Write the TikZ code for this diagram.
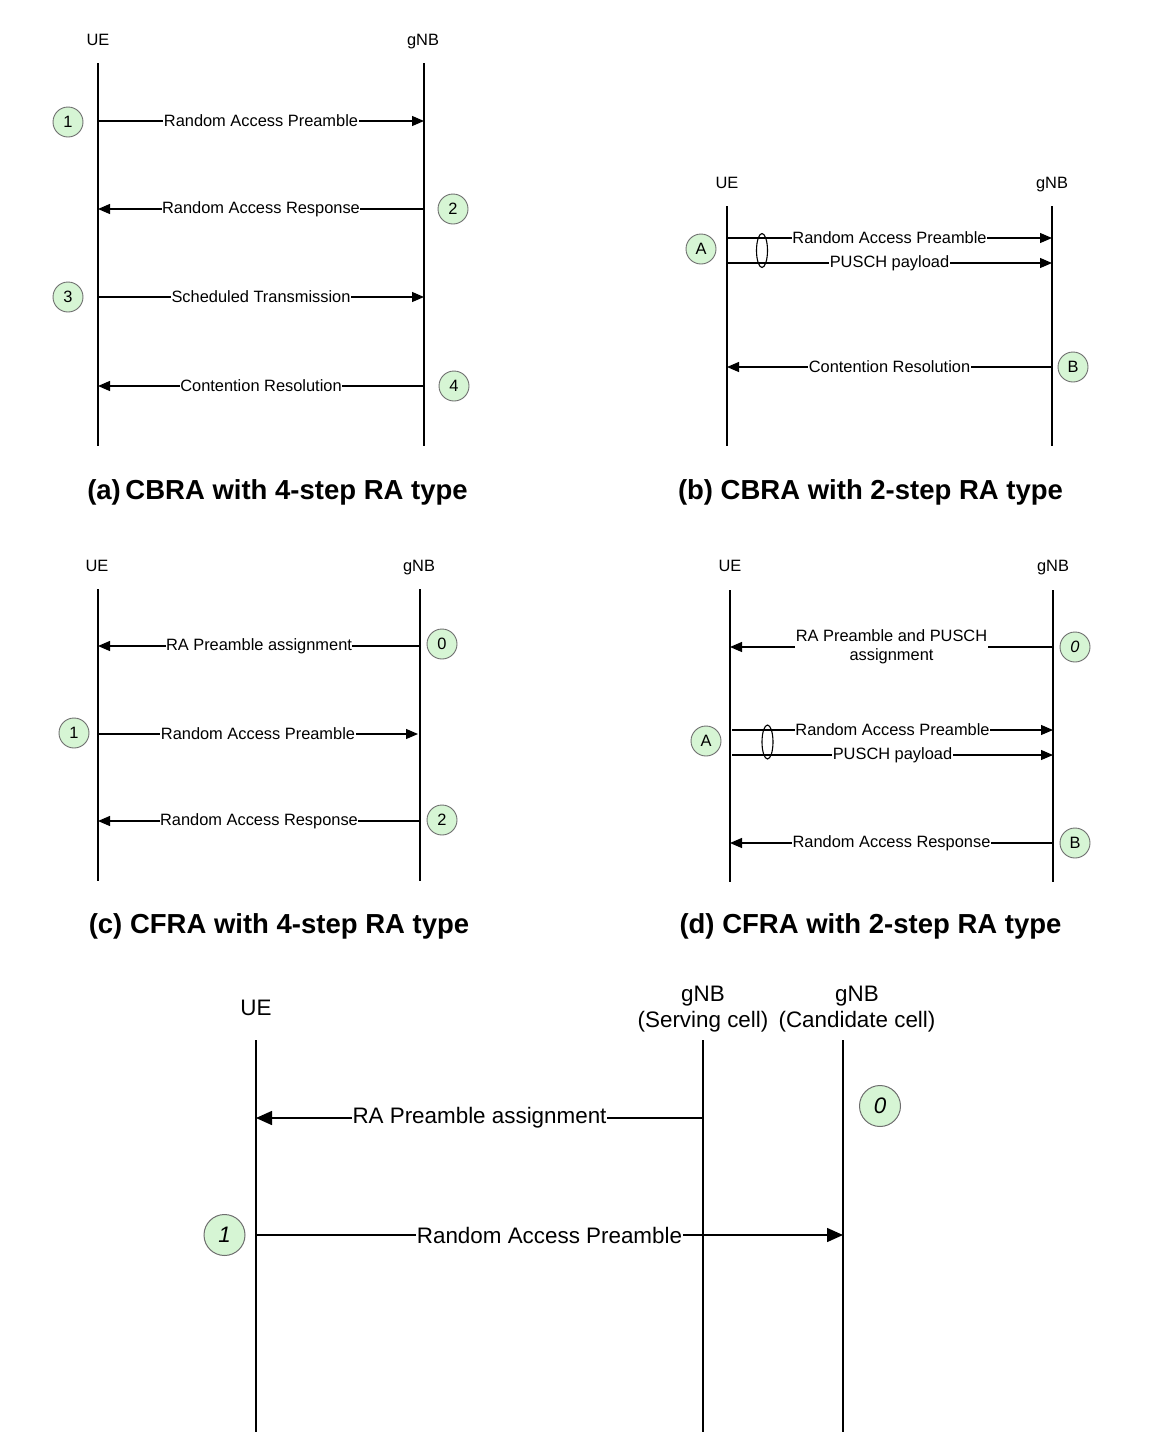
\documentclass[tikz,border=0pt]{standalone}
\usepackage{fontspec}
\setmainfont{Liberation Sans}
\usetikzlibrary{arrows.meta,shapes.geometric}
\definecolor{stepfill}{RGB}{214,245,212}
\definecolor{stepline}{RGB}{110,110,110}
\newcommand\fsm{\fontsize{16.4}{19.5}\selectfont}
\newcommand\fcap{\fontsize{27.5}{32}\selectfont\bfseries}
\newcommand\fbig{\fontsize{22.4}{26}\selectfont}
\begin{document}
\begin{tikzpicture}[x=1pt,y=-1pt,
  life/.style={line width=1.3pt},
  lifebig/.style={line width=1.5pt},
  msg/.style={line width=1.2pt,-{Triangle[length=12pt,width=10pt]}},
  msgbig/.style={line width=1.5pt,-{Triangle[length=16pt,width=14pt]}},
  lbl/.style={fill=white,inner xsep=0.5pt,inner ysep=1pt,font=\fsm},
  lblbig/.style={fill=white,inner xsep=0.5pt,inner ysep=1pt,font=\fbig},
  ent/.style={font=\fsm,inner sep=0pt,text height=12pt,text depth=0pt},
  entbig/.style={font=\fbig,inner sep=0pt,align=center},
  stepc/.style={circle,draw=stepline,line width=0.9pt,fill=stepfill,minimum size=30pt,inner sep=0pt,font=\fsm},
  stepcbig/.style={circle,draw=stepline,line width=1pt,fill=stepfill,minimum size=41pt,inner sep=0pt,font=\fbig\itshape},
  grp/.style={ellipse,draw,line width=1.1pt,minimum width=11pt,minimum height=34pt,inner sep=0pt},
  capt/.style={font=\fcap,inner sep=0pt}
]
\useasboundingbox (0,0) rectangle (1150,1449);

% ---------------- (a) ----------------
\node[ent] (aUE) at (98,39) {UE};
\node[ent] (aGNB) at (423,39) {gNB};
\coordinate (aUEt) at (98,63);  \coordinate (aUEb) at (98,446);
\coordinate (aGt) at (424,63);  \coordinate (aGb) at (424,446);
\draw[life] (aUEt) -- (aUEb);
\draw[life] (aGt) -- (aGb);
\coordinate (a1u) at (98,121);  \coordinate (a1g) at (424,121);
\coordinate (a2u) at (98,209);  \coordinate (a2g) at (424,209);
\coordinate (a3u) at (98,297);  \coordinate (a3g) at (424,297);
\coordinate (a4u) at (98,386);  \coordinate (a4g) at (424,386);
\draw[msg] (a1u) -- node[lbl]{Random Access Preamble} (a1g);
\draw[msg] (a2g) -- node[lbl]{Random Access Response} (a2u);
\draw[msg] (a3u) -- node[lbl]{Scheduled Transmission} (a3g);
\draw[msg] (a4g) -- node[lbl]{Contention Resolution} (a4u);
\node[stepc] (as1) at (68,122) {1};
\node[stepc] (as2) at (453,209) {2};
\node[stepc] (as3) at (68,297) {3};
\node[stepc] (as4) at (454,386) {4};
\node[capt] (capA) at (277.5,492) {(a)\,CBRA with 4-step RA type};

% ---------------- (b) ----------------
\node[ent] (bUE) at (727,182) {UE};
\node[ent] (bGNB) at (1052,182) {gNB};
\coordinate (bUEt) at (727,206);  \coordinate (bUEb) at (727,446);
\coordinate (bGt) at (1052,206);  \coordinate (bGb) at (1052,446);
\draw[life] (bUEt) -- (bUEb);
\draw[life] (bGt) -- (bGb);
\coordinate (b1u) at (727,238);  \coordinate (b1g) at (1052,238);
\coordinate (b2u) at (727,263);  \coordinate (b2g) at (1052,263);
\coordinate (b3u) at (727,367);  \coordinate (b3g) at (1052,367);
\draw[msg] (b1u) -- node[lbl]{Random Access Preamble} (b1g);
\draw[msg] (b2u) -- node[lbl]{PUSCH payload} (b2g);
\draw[msg] (b3g) -- node[lbl]{Contention Resolution} (b3u);
\node[grp] (bgrp) at (762,250.5) {};
\node[stepc] (bsA) at (701,249) {A};
\node[stepc] (bsB) at (1073,367) {B};
\node[capt] (capB) at (870.5,492) {(b) CBRA with 2-step RA type};

% ---------------- (c) ----------------
\node[ent] (cUE) at (97,565) {UE};
\node[ent] (cGNB) at (419,565) {gNB};
\coordinate (cUEt) at (98,589);  \coordinate (cUEb) at (98,881);
\coordinate (cGt) at (420,589);  \coordinate (cGb) at (420,881);
\draw[life] (cUEt) -- (cUEb);
\draw[life] (cGt) -- (cGb);
\coordinate (c0u) at (98,646);  \coordinate (c0g) at (420,646);
\coordinate (c1u) at (98,734);  \coordinate (c1g) at (418,734);
\coordinate (c2u) at (98,821);  \coordinate (c2g) at (420,821);
\draw[msg] (c0g) -- node[lbl]{RA Preamble assignment} (c0u);
\draw[msg] (c1u) -- node[lbl]{Random Access Preamble} (c1g);
\draw[msg] (c2g) -- node[lbl]{Random Access Response} (c2u);
\node[stepc] (cs0) at (442,644) {0};
\node[stepc] (cs1) at (74,733) {1};
\node[stepc] (cs2) at (442,820) {2};
\node[capt] (capC) at (279,926) {(c) CFRA with 4-step RA type};

% ---------------- (d) ----------------
\node[ent] (dUE) at (730,565) {UE};
\node[ent] (dGNB) at (1053,565) {gNB};
\coordinate (dUEt) at (730,590);  \coordinate (dUEb) at (730,882);
\coordinate (dGt) at (1053,590);  \coordinate (dGb) at (1053,882);
\draw[life] (dUEt) -- (dUEb);
\draw[life] (dGt) -- (dGb);
\coordinate (d0u) at (730,647);  \coordinate (d0g) at (1053,647);
\coordinate (d1u) at (732,730);  \coordinate (d1g) at (1053,730);
\coordinate (d2u) at (732,755);  \coordinate (d2g) at (1053,755);
\coordinate (d3u) at (730,843);  \coordinate (d3g) at (1053,843);
\draw[msg] (d0g) -- node[lbl,align=center,inner ysep=0pt]{RA Preamble and PUSCH\\assignment} (d0u);
\draw[msg] (d1u) -- node[lbl]{Random Access Preamble} (d1g);
\draw[msg] (d2u) -- node[lbl]{PUSCH payload} (d2g);
\draw[msg] (d3g) -- node[lbl]{Random Access Response} (d3u);
\node[grp] (dgrp) at (767.5,742) {};
\node[stepc,font=\fsm\itshape] (ds0) at (1075,647) {0};
\node[stepc] (dsA) at (706,741) {A};
\node[stepc] (dsB) at (1075,843) {B};
\node[capt] (capD) at (870.5,926) {(d) CFRA with 2-step RA type};

% ---------------- bottom ----------------
\node[entbig] (eUE) at (256,1008) {UE};
\node[entbig] (eSrv) at (703,1009) {gNB\\(Serving cell)};
\node[entbig] (eCnd) at (857,1009) {gNB\\(Candidate cell)};
\coordinate (eUEt) at (256,1040);  \coordinate (eUEb) at (256,1432);
\coordinate (eSt) at (703,1040);   \coordinate (eSb) at (703,1432);
\coordinate (eCt) at (843,1040);   \coordinate (eCb) at (843,1432);
\coordinate (e0u) at (256,1118);   \coordinate (e0s) at (703,1118);
\coordinate (e1u) at (256,1235);   \coordinate (e1c) at (843,1235);
\draw[msgbig] (e0s) -- node[lblbig]{RA Preamble assignment} (e0u);
\draw[msgbig] (e1u) -- node[lblbig]{Random Access Preamble} (e1c);
\draw[lifebig] (eUEt) -- (eUEb);
\draw[lifebig] (eSt) -- (eSb);
\draw[lifebig] (eCt) -- (eCb);
\node[stepcbig] (es0) at (880,1106) {0};
\node[stepcbig] (es1) at (224.5,1235) {1};
\end{tikzpicture}
\end{document}
